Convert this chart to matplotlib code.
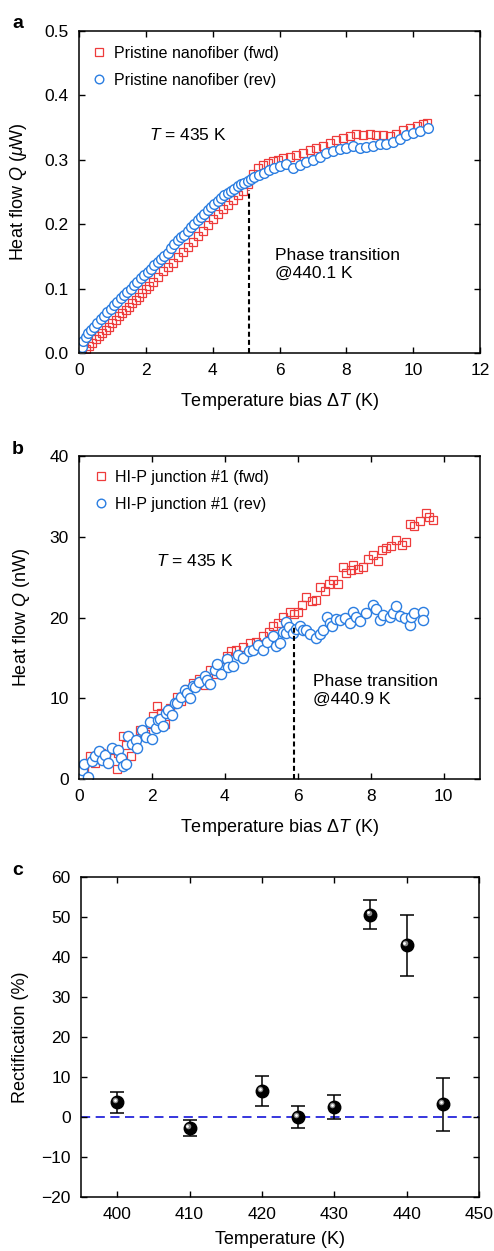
import matplotlib
matplotlib.use("Agg")
import matplotlib.pyplot as plt
import matplotlib.transforms as mtransforms
import numpy as np

plt.rcParams['font.family'] = ['Liberation Sans', 'DejaVu Sans']
plt.rcParams['mathtext.fontset'] = 'custom'
plt.rcParams['mathtext.it'] = 'Liberation Sans:italic'
plt.rcParams['mathtext.rm'] = 'Liberation Sans'

# ---------------- Panel a data (pristine nanofiber) ----------------
a_fwd_x = [0.10, 0.20, 0.30, 0.40, 0.50, 0.60, 0.70, 0.80, 0.90, 1.00, 1.10, 1.20, 1.30, 1.40,
           1.50, 1.60, 1.70, 1.80, 1.90, 2.00, 2.10, 2.20, 2.35, 2.50, 2.65, 2.80, 2.95, 3.10,
           3.25, 3.40, 3.55, 3.70, 3.85, 4.00, 4.15, 4.30, 4.45, 4.60, 4.75, 4.90, 5.05, 5.20,
           5.35, 5.50, 5.65, 5.80, 5.95, 6.10, 6.30, 6.50, 6.70, 6.90, 7.10, 7.30, 7.50, 7.70,
           7.90, 8.10, 8.30, 8.50, 8.70, 8.90, 9.10, 9.30, 9.50, 9.70, 9.90, 10.10, 10.30, 10.40]
a_fwd_y = [0.000, 0.006, 0.011, 0.016, 0.021, 0.026, 0.031, 0.036, 0.041, 0.046, 0.052, 0.057,
           0.062, 0.067, 0.072, 0.077, 0.082, 0.087, 0.093, 0.099, 0.104, 0.110, 0.118, 0.127,
           0.133, 0.140, 0.149, 0.157, 0.165, 0.173, 0.182, 0.189, 0.199, 0.208, 0.216, 0.223,
           0.230, 0.238, 0.245, 0.252, 0.262, 0.278, 0.288, 0.292, 0.295, 0.298, 0.300, 0.303,
           0.305, 0.308, 0.311, 0.315, 0.318, 0.322, 0.326, 0.330, 0.334, 0.337, 0.340, 0.339,
           0.340, 0.339, 0.338, 0.337, 0.340, 0.346, 0.350, 0.353, 0.356, 0.357]

a_rev_x = [0.03, 0.08, 0.13, 0.20, 0.28, 0.36, 0.45, 0.55, 0.65, 0.75, 0.85, 0.95, 1.05, 1.15,
           1.25, 1.35, 1.45, 1.55, 1.65, 1.75, 1.85, 1.95, 2.05, 2.15, 2.25, 2.35, 2.45, 2.55,
           2.65, 2.75, 2.85, 2.95, 3.05, 3.15, 3.25, 3.35, 3.45, 3.55, 3.65, 3.75, 3.85, 3.95,
           4.05, 4.15, 4.25, 4.35, 4.45, 4.55, 4.65, 4.75, 4.85, 4.95, 5.05, 5.15, 5.25, 5.40,
           5.55, 5.70, 5.85, 6.00, 6.20, 6.40, 6.60, 6.80, 7.00, 7.20, 7.40, 7.60, 7.80, 8.00,
           8.20, 8.40, 8.60, 8.80, 9.00, 9.20, 9.40, 9.60, 9.80, 10.00, 10.20, 10.45]
a_rev_y = [0.000, 0.010, 0.018, 0.025, 0.031, 0.036, 0.041, 0.047, 0.053, 0.058, 0.064, 0.069,
           0.074, 0.079, 0.085, 0.090, 0.095, 0.100, 0.106, 0.111, 0.116, 0.121, 0.126, 0.131,
           0.136, 0.141, 0.146, 0.151, 0.156, 0.163, 0.170, 0.176, 0.180, 0.184, 0.189, 0.195,
           0.200, 0.206, 0.211, 0.216, 0.222, 0.227, 0.232, 0.236, 0.240, 0.245, 0.248, 0.251,
           0.255, 0.259, 0.262, 0.264, 0.267, 0.270, 0.274, 0.277, 0.280, 0.284, 0.288, 0.291,
           0.294, 0.288, 0.292, 0.297, 0.300, 0.305, 0.310, 0.313, 0.316, 0.319, 0.321, 0.318,
           0.320, 0.322, 0.324, 0.325, 0.328, 0.333, 0.339, 0.342, 0.345, 0.349]

# ---------------- Panel b data (HI-P junction #1) ----------------
b_fwd_x = [0.15, 0.30, 0.45, 0.60, 0.75, 0.90, 1.03, 1.08, 1.21, 1.30, 1.44, 1.55, 1.67, 1.80,
           1.95, 2.04, 2.13, 2.25, 2.36, 2.50, 2.68, 2.80, 2.95, 3.13, 3.30, 3.45, 3.59, 3.75,
           3.91, 4.05, 4.18, 4.32, 4.50, 4.68, 4.85, 5.05, 5.20, 5.32, 5.45, 5.60, 5.78, 5.90,
           6.00, 6.12, 6.24, 6.38, 6.50, 6.60, 6.75, 6.85, 6.97, 7.10, 7.24, 7.33, 7.45, 7.52,
           7.65, 7.79, 7.92, 8.06, 8.20, 8.30, 8.43, 8.55, 8.70, 8.85, 8.98, 9.07, 9.20, 9.35,
           9.52, 9.60, 9.71]
b_fwd_y = [1.5, 2.8, 2.0, 3.2, 2.5, 3.6, 1.3, 3.2, 5.3, 4.2, 2.8, 4.8, 6.1, 5.6,
           6.8, 7.8, 9.0, 8.2, 6.8, 8.8, 10.2, 9.6, 11.2, 11.9, 12.4, 11.6, 13.5, 13.0,
           13.9, 15.2, 15.9, 16.0, 16.3, 16.8, 17.0, 17.7, 18.2, 18.9, 19.3, 20.1, 20.7, 20.4,
           20.7, 21.5, 22.6, 22.0, 22.2, 23.8, 23.3, 24.2, 24.7, 24.2, 26.3, 25.5, 25.9, 26.5,
           26.0, 26.3, 27.2, 27.7, 27.0, 28.3, 28.6, 28.9, 29.6, 29.0, 29.4, 31.6, 31.3, 32.0,
           32.9, 32.4, 32.1]

b_rev_x = [0.05, 0.07, 0.15, 0.25, 0.35, 0.44, 0.55, 0.62, 0.70, 0.80, 0.90, 1.08, 1.15, 1.21,
           1.30, 1.35, 1.45, 1.55, 1.60, 1.72, 1.85, 1.95, 2.00, 2.10, 2.17, 2.22, 2.30, 2.40,
           2.45, 2.55, 2.63, 2.68, 2.80, 2.90, 2.95, 3.05, 3.13, 3.18, 3.30, 3.45, 3.50, 3.60,
           3.73, 3.78, 3.90, 4.05, 4.10, 4.23, 4.35, 4.50, 4.65, 4.78, 4.90, 5.05, 5.15, 5.32,
           5.40, 5.50, 5.60, 5.69, 5.69, 5.75, 5.87, 5.95, 6.05, 6.15, 6.24, 6.35, 6.51, 6.60,
           6.69, 6.79, 6.88, 6.95, 7.05, 7.15, 7.30, 7.43, 7.52, 7.61, 7.70, 7.88, 8.06, 8.15,
           8.25, 8.35, 8.52, 8.60, 8.70, 8.80, 8.95, 9.07, 9.11, 9.20, 9.43, 9.43]
b_rev_y = [0.3, 1.1, 1.8, 0.3, 2.2, 2.8, 3.5, 2.4, 3.0, 2.0, 3.8, 3.6, 2.6, 1.6,
           1.9, 5.3, 4.3, 4.8, 3.8, 6.1, 5.2, 7.0, 4.9, 6.3, 7.3, 7.4, 6.6, 8.2,
           8.6, 7.9, 9.4, 9.4, 10.2, 11.0, 10.7, 10.0, 11.5, 11.4, 12.0, 12.7, 12.3, 11.8,
           13.5, 14.2, 13.0, 14.8, 13.9, 14.0, 15.3, 15.0, 15.8, 16.0, 16.6, 16.0, 17.0, 17.7,
           16.5, 16.8, 18.2, 18.1, 19.5, 18.8, 18.1, 18.6, 18.9, 18.4, 18.5, 17.9, 17.4, 18.0,
           18.5, 20.1, 19.3, 19.0, 19.8, 19.7, 19.9, 19.3, 20.7, 20.1, 19.6, 20.5, 21.6, 21.0,
           19.7, 20.3, 20.1, 20.6, 21.4, 20.2, 20.0, 19.1, 20.1, 20.5, 20.7, 19.7]

# ---------------- Panel c data (rectification) ----------------
c_temp = [400, 410, 420, 425, 430, 435, 440, 445]
c_rect = [3.7, -2.8, 6.5, 0.0, 2.5, 50.6, 42.9, 3.2]
c_err = [2.6, 2.0, 3.7, 2.8, 3.1, 3.6, 7.6, 6.6]

RED = '#ee3b3b'
BLUE = '#2a7de1'

fig = plt.figure(figsize=(4.94, 12.51), dpi=100)
W, H = 494.0, 1251.0

def add_ax(l, t, r, b):
    return fig.add_axes([l / W, 1 - b / H, (r - l) / W, (b - t) / H])

ax_a = add_ax(79, 31, 480, 353)
ax_b = add_ax(79, 456, 480, 779)
ax_c = add_ax(81, 877, 479, 1197)

TFS = 12.5   # tick labels
LFS = 13     # axis labels
AFS = 12.5   # annotations
GFS = 11.5   # legend

for ax in (ax_a, ax_b, ax_c):
    ax.tick_params(direction='in', length=4.5, width=1, top=True, right=True,
                   labelsize=TFS, pad=7.5)
    for s in ax.spines.values():
        s.set_linewidth(1.1)

def legend(ax, anchor):
    leg = ax.legend(loc='upper left', frameon=False, fontsize=GFS, handlelength=0.8,
                    handletextpad=0.5, labelspacing=0.75, borderaxespad=0.0,
                    borderpad=0.4, bbox_to_anchor=anchor)
    leg.legend_handles[0].set_markersize(5.2)
    leg.legend_handles[1].set_markersize(6.2)
    return leg

# Panel a
ax_a.plot(a_fwd_x, a_fwd_y, 's', ms=5.6, mfc='none', mec=RED, mew=0.9,
          label='Pristine nanofiber (fwd)')
ax_a.plot(a_rev_x, a_rev_y, 'o', ms=7, mfc='white', mec=BLUE, mew=1.0,
          label='Pristine nanofiber (rev)')
ax_a.plot([5.09, 5.09], [0, 0.253], color='black', ls=(0, (2.4, 1.5)), lw=1.5)
ax_a.set_xlim(0, 12)
ax_a.set_ylim(0, 0.5)
ax_a.set_xticks(range(0, 13, 2))
ax_a.set_yticks([0.0, 0.1, 0.2, 0.3, 0.4, 0.5])
ax_a.set_yticklabels(['0.0', '0.1', '0.2', '0.3', '0.4', '0.5'])
ax_a.set_xlabel(r'Temperature bias $\Delta \mathit{T}$ (K)', fontsize=LFS)
ax_a.set_ylabel(r'Heat flow $\mathit{Q}$ ($\mu$W)', fontsize=LFS)
ax_a.xaxis.set_label_coords(0.5, -0.118)
ax_a.yaxis.set_label_coords(-0.125, 0.5)
ax_a.text(2.1, 0.338, r'$\mathit{T}$ = 435 K', fontsize=AFS, va='center', ha='left')
ax_a.text(5.87, 0.137, 'Phase transition\n@440.1 K', fontsize=AFS, va='center', ha='left',
          linespacing=1.25)
legend(ax_a, (0.019, 0.974))

# Panel b
ax_b.plot(b_fwd_x, b_fwd_y, 's', ms=6.2, mfc='none', mec=RED, mew=0.9,
          label='HI-P junction #1 (fwd)')
ax_b.plot(b_rev_x, b_rev_y, 'o', ms=7.3, mfc='white', mec=BLUE, mew=1.0,
          label='HI-P junction #1 (rev)')
ax_b.plot([5.89, 5.89], [0, 19.1], color='black', ls=(0, (2.4, 1.5)), lw=1.5)
ax_b.set_xlim(0, 11)
ax_b.set_ylim(0, 40)
ax_b.set_xticks(range(0, 11, 2))
ax_b.set_yticks(range(0, 41, 10))
ax_b.set_xlabel(r'Temperature bias $\Delta \mathit{T}$ (K)', fontsize=LFS)
ax_b.set_ylabel(r'Heat flow $\mathit{Q}$ (nW)', fontsize=LFS)
ax_b.xaxis.set_label_coords(0.5, -0.118)
ax_b.yaxis.set_label_coords(-0.117, 0.5)
ax_b.text(2.1, 27.0, r'$\mathit{T}$ = 435 K', fontsize=AFS, va='center', ha='left')
ax_b.text(6.41, 11.0, 'Phase transition\n@440.9 K', fontsize=AFS, va='center', ha='left',
          linespacing=1.25)
legend(ax_b, (0.023, 0.977))

# Panel c
ax_c.axhline(0, color='#1414d8', ls=(0, (5.5, 3.3)), lw=1.2, zorder=1)
ax_c.errorbar(c_temp, c_rect, yerr=c_err, fmt='none', ecolor='black', elinewidth=1.1,
              capsize=5.3, capthick=1.1, zorder=2)
ax_c.plot(c_temp, c_rect, 'o', ms=9, mfc='black', mec='black', zorder=3)
hl = mtransforms.offset_copy(ax_c.transData, fig=fig, x=-1.4, y=1.4, units='points')
ax_c.plot(c_temp, c_rect, 'o', ms=4, mfc='#8a8a8a', mec='none', zorder=4, transform=hl)
hl2 = mtransforms.offset_copy(ax_c.transData, fig=fig, x=-1.6, y=1.6, units='points')
ax_c.plot(c_temp, c_rect, 'o', ms=2, mfc='white', mec='none', zorder=5, transform=hl2)
ax_c.set_xlim(395, 450)
ax_c.set_ylim(-20, 60)
ax_c.set_xticks(range(400, 451, 10))
ax_c.set_yticks(range(-20, 61, 10))
ax_c.set_xlabel('Temperature (K)', fontsize=LFS)
ax_c.set_ylabel('Rectification (%)', fontsize=LFS)
ax_c.xaxis.set_label_coords(0.5, -0.106)
ax_c.yaxis.set_label_coords(-0.13, 0.5)

for lbl, y in (('a', 28), ('b', 454), ('c', 875)):
    fig.text(12 / W, 1 - y / H, lbl, fontsize=14, fontweight='bold', va='baseline', ha='left')

fig.savefig('out.png', dpi=100)
